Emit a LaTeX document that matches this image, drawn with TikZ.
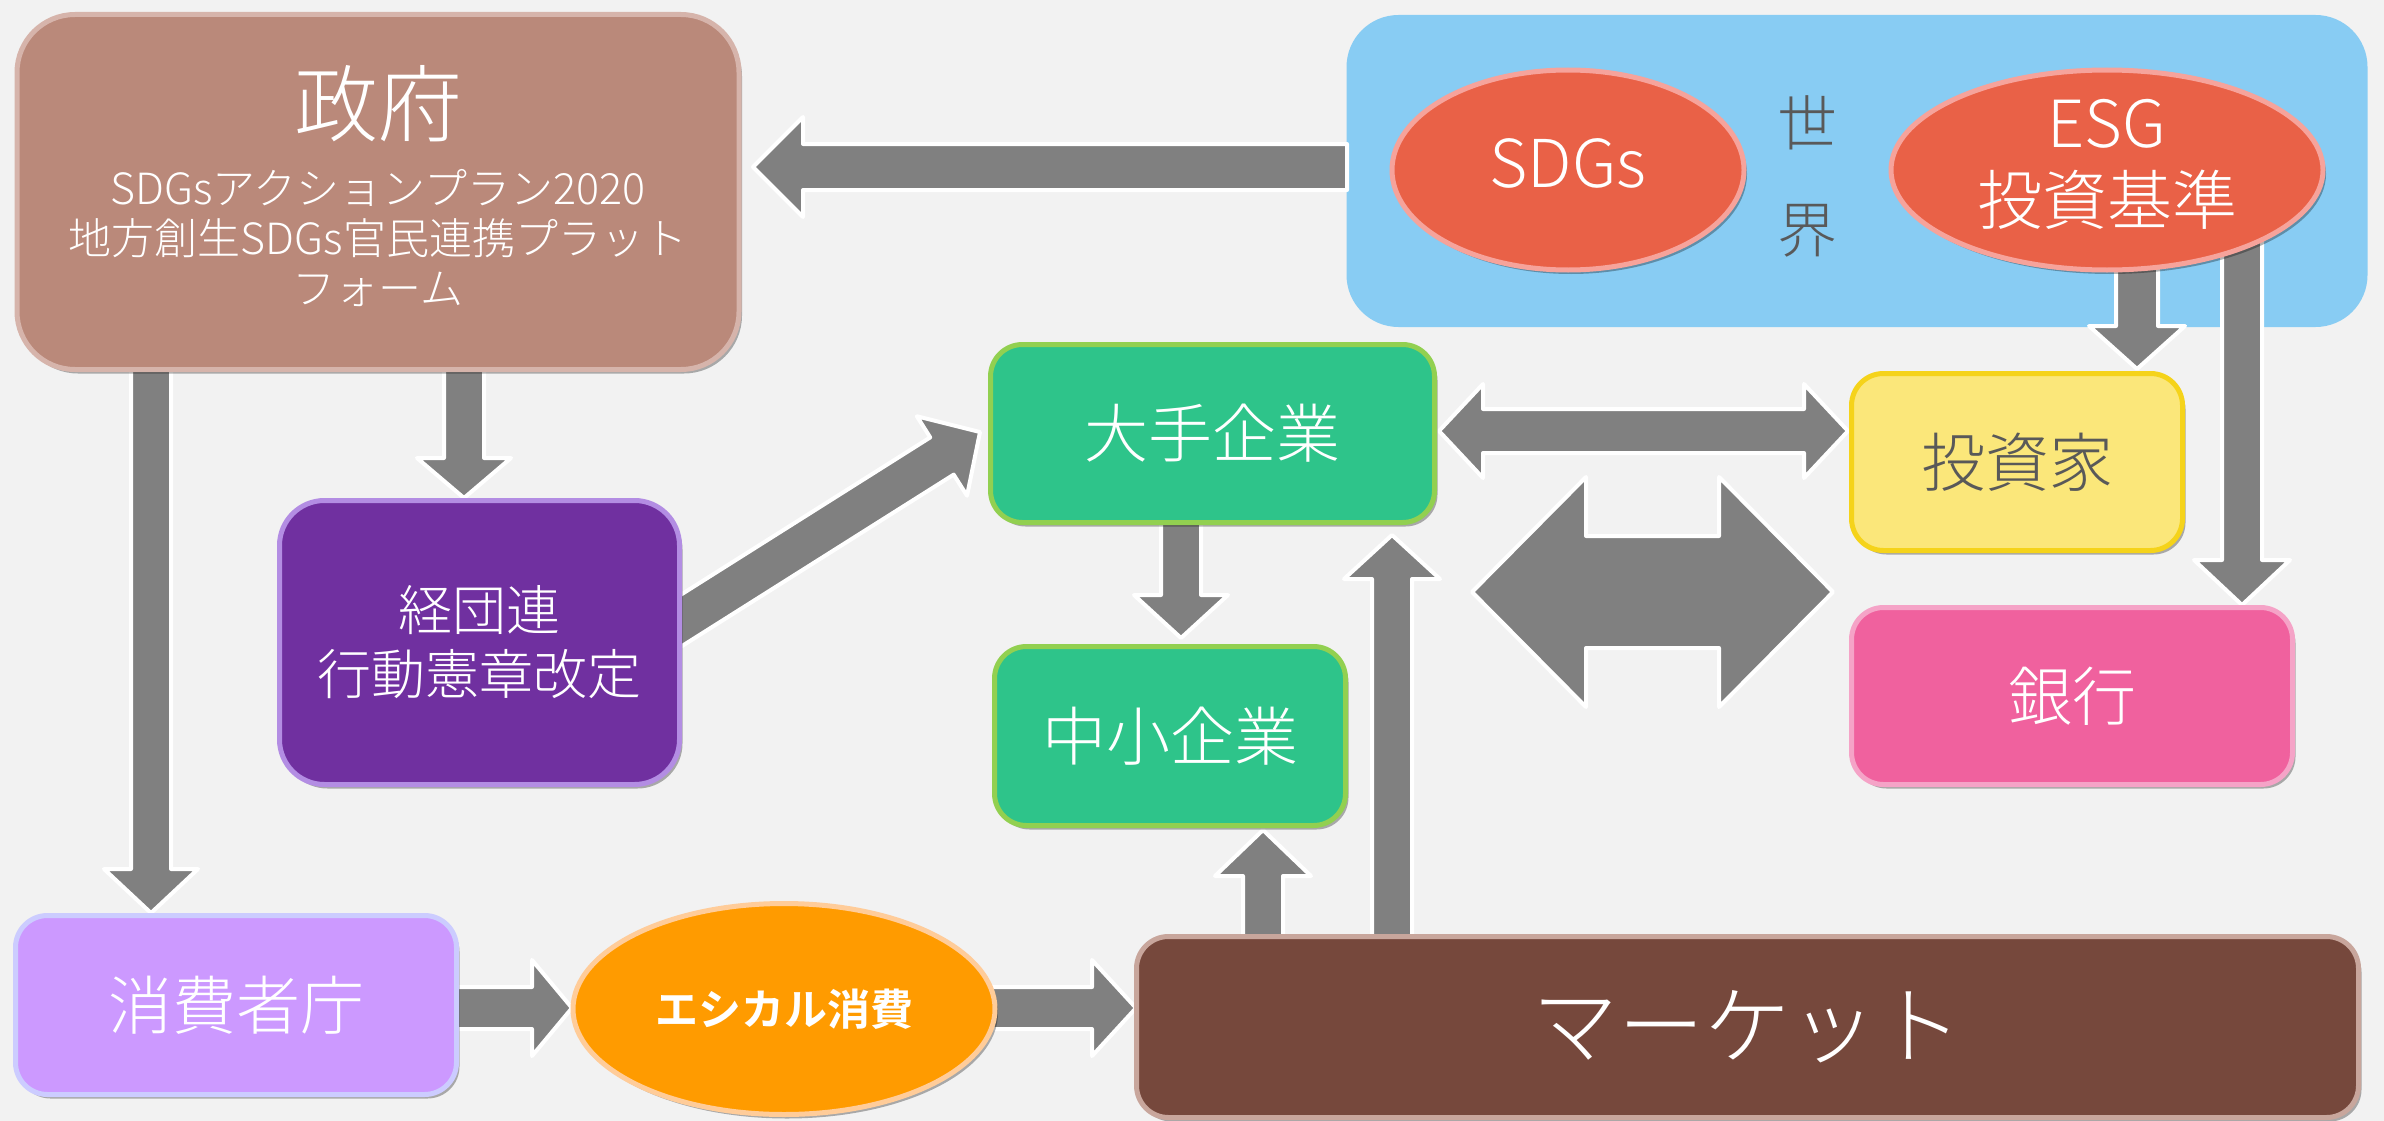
\documentclass[tikz,border=0pt]{standalone}
\usepackage{fontspec}
\setmainfont{Noto Sans CJK JP}[UprightFont=* Light, BoldFont=* Bold]
\usetikzlibrary{calc,shadows,shapes.geometric}
\definecolor{bg}{HTML}{F2F2F2}
\definecolor{agray}{HTML}{808080}
\definecolor{govfill}{HTML}{BA897A}
\definecolor{govline}{HTML}{D6B4AB}
\definecolor{worldfill}{HTML}{88CCF3}
\definecolor{redfill}{HTML}{E96147}
\definecolor{redline}{HTML}{F6A39B}
\definecolor{keifill}{HTML}{7030A0}
\definecolor{keiline}{HTML}{B38DE3}
\definecolor{greenfill}{HTML}{2EC48A}
\definecolor{greenline}{HTML}{92D050}
\definecolor{yelfill}{HTML}{FBE77A}
\definecolor{yelline}{HTML}{F5D31A}
\definecolor{pinkfill}{HTML}{F0619E}
\definecolor{pinkline}{HTML}{F5A3C7}
\definecolor{lavfill}{HTML}{CC99FF}
\definecolor{lavline}{HTML}{CCCCFF}
\definecolor{orfill}{HTML}{FF9B00}
\definecolor{orline}{HTML}{FFCC99}
\definecolor{brfill}{HTML}{76483C}
\definecolor{brline}{HTML}{C8A69C}
\definecolor{darktext}{HTML}{595959}
\newcommand\barr[5]{%
  \coordinate (bh) at ($(#2)!#5!(#1)$);
  \draw[barrow] ($(#1)!#3!90:(#2)$) -- ($(bh)!#3!90:(#2)$) -- ($(bh)!#4!90:(#2)$) -- (#2)
    -- ($(bh)!#4!-90:(#2)$) -- ($(bh)!#3!-90:(#2)$) -- ($(#1)!#3!-90:(#2)$) -- cycle;}
\newcommand\dbarr[5]{%
  \coordinate (bh) at ($(#2)!#5!(#1)$);
  \coordinate (bt) at ($(#1)!#5!(#2)$);
  \draw[barrow] (#1) -- ($(bt)!#4!90:(#2)$) -- ($(bt)!#3!90:(#2)$) -- ($(bh)!#3!90:(#2)$)
    -- ($(bh)!#4!90:(#2)$) -- (#2) -- ($(bh)!#4!-90:(#2)$) -- ($(bh)!#3!-90:(#2)$)
    -- ($(bt)!#3!-90:(#2)$) -- ($(bt)!#4!-90:(#2)$) -- cycle;}
\tikzset{
  barrow/.style={fill=agray, draw=white, line width=4pt, line join=round},
  shade3/.style={drop shadow={shadow xshift=3pt, shadow yshift=-4pt, opacity=0.3, fill=black}},
  rbox/.style={rectangle, rounded corners=32pt, line width=5pt, inner sep=0pt, align=center, shade3,
    text=white, font=\fontsize{64pt}{72pt}\selectfont},
  ebox/.style={ellipse, line width=5pt, inner sep=0pt, align=center, shade3, text=white},
}
\begin{document}
\begin{tikzpicture}[x=1pt, y=-1pt]
\useasboundingbox (0,0) rectangle (2384,1121);
\fill[bg] (0,0) rectangle (2384,1121);

% world panel
\node[rectangle, rounded corners=52pt, fill=worldfill, minimum width=1021pt, minimum height=312pt] (world) at (1857,171) {};

% arrow coordinates
\coordinate (a1s) at (151,350);   \coordinate (a1e) at (151,913);
\coordinate (a2s) at (464,350);   \coordinate (a2e) at (464,498);
\coordinate (a3s) at (663,632);   \coordinate (a3e) at (980,432);
\coordinate (a4s) at (1347,167);  \coordinate (a4e) at (753,167);
\coordinate (a5s) at (1181,510);  \coordinate (a5e) at (1181,638);
\coordinate (a6s) at (1263,950);  \coordinate (a6e) at (1263,830);
\coordinate (a7s) at (1392,950);  \coordinate (a7e) at (1392,535);
\coordinate (a8s) at (1439,431);  \coordinate (a8e) at (1848,431);
\coordinate (a9s) at (1472,592);  \coordinate (a9e) at (1833,592);
\coordinate (a10s) at (2137,250); \coordinate (a10e) at (2137,369);
\coordinate (a11s) at (2242,240); \coordinate (a11e) at (2242,605);
\coordinate (a12s) at (440,1008); \coordinate (a12e) at (572,1008);
\coordinate (a13s) at (980,1008); \coordinate (a13e) at (1136,1008);

% block arrows
\barr{a1s}{a1e}{20pt}{47pt}{44pt}
\barr{a2s}{a2e}{20pt}{47pt}{40pt}
\barr{a3s}{a3e}{22pt}{47pt}{45pt}
\barr{a4s}{a4e}{23pt}{50pt}{50pt}
\barr{a5s}{a5e}{20pt}{47pt}{43pt}
\barr{a6s}{a6e}{20pt}{48pt}{46pt}
\barr{a7s}{a7e}{20pt}{48pt}{44pt}
\dbarr{a8s}{a8e}{22pt}{47pt}{44pt}
\dbarr{a9s}{a9e}{56pt}{115pt}{114pt}
\barr{a10s}{a10e}{21pt}{48pt}{43pt}
\barr{a11s}{a11e}{20pt}{48pt}{45pt}
\barr{a12s}{a12e}{21pt}{48pt}{40pt}
\barr{a13s}{a13e}{21pt}{48pt}{44pt}

% world contents
\node[ebox, fill=redfill, draw=redline, minimum width=352pt, minimum height=200pt] (sdgs) at (1568,170) {};
\node[text=white, font=\fontsize{66pt}{72pt}\selectfont] (sdgst) at (1568,163) {SDGs};
\node[ebox, fill=redfill, draw=redline, minimum width=432pt, minimum height=200pt] (esg) at (2107,170) {};
\node[text=white, align=center, font=\fontsize{65pt}{77pt}\selectfont] (esgt) at (2107,164) {ESG\\投資基準};
\node[text=darktext, align=center, font=\fontsize{60pt}{107pt}\selectfont] (worldt) at (1807,176) {世\\界};

% government
\node[rbox, rounded corners=58pt, fill=govfill, draw=govline, minimum width=722pt, minimum height=355pt] (gov) at (378,192) {};
\node[text=white, font=\fontsize{84pt}{90pt}\selectfont] (govt) at (378,104) {政府};
\node[text=white, align=center, font=\fontsize{43pt}{50pt}\selectfont] (govs) at (378,238) {SDGsアクションプラン2020\\地方創生SDGs官民連携プラット\\フォーム};

% boxes
\node[rbox, rounded corners=45pt, fill=keifill, draw=keiline, minimum width=400pt, minimum height=284pt,
  font=\fontsize{54pt}{64pt}\selectfont] (kei) at (479.5,642.5) {経団連\\行動憲章改定};
\node[rbox, fill=greenfill, draw=greenline, minimum width=444pt, minimum height=178pt] (ote) at (1212.5,433.5) {大手企業};
\node[rbox, fill=greenfill, draw=greenline, minimum width=351pt, minimum height=179pt] (chu) at (1170,736) {中小企業};
\node[rbox, fill=yelfill, draw=yelline, text=darktext, minimum width=331pt, minimum height=177pt] (tos) at (2017,462) {投資家};
\node[rbox, fill=pinkfill, draw=pinkline, minimum width=441pt, minimum height=177pt] (bank) at (2072,696) {銀行};
\node[rbox, fill=lavfill, draw=lavline, minimum width=441pt, minimum height=179pt] (sho) at (236,1005) {消費者庁};
\node[ebox, fill=orfill, draw=orline, minimum width=422pt, minimum height=211pt,
  font=\fontsize{43pt}{48pt}\selectfont\bfseries] (eth) at (784,1009) {エシカル消費};
\node[rbox, fill=brfill, draw=brline, minimum width=1222pt, minimum height=181pt,
  font=\fontsize{86pt}{90pt}\selectfont] (market) at (1747.5,1027) {マーケット};
\end{tikzpicture}
\end{document}
